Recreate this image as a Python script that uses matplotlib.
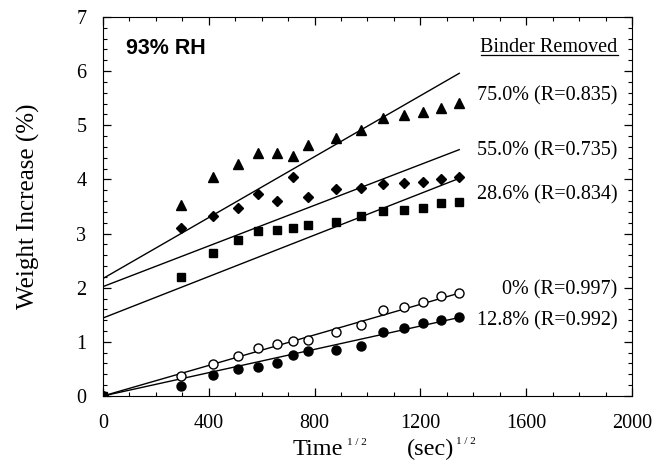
import numpy as np
import matplotlib
matplotlib.use("Agg")
import matplotlib.pyplot as plt

# ──────────────────────────────────────────────
# DATA
# ──────────────────────────────────────────────
time_sqrt = [0, 294, 416, 509, 586, 657, 720, 777, 881, 974, 1059, 1137, 1210, 1279, 1345]

# 75.0 % and 55.0 % series have no point at the origin
w_750 = [3.52, 4.04, 4.28, 4.49, 4.49, 4.44, 4.63, 4.76, 4.92, 5.13, 5.19, 5.24, 5.32, 5.42]
w_550 = [3.11, 3.33, 3.47, 3.73, 3.61, 4.04, 3.67, 3.83, 3.84, 3.91, 3.93, 3.96, 4.01, 4.05]
w_286 = [0, 2.20, 2.64, 2.88, 3.04, 3.07, 3.11, 3.15, 3.22, 3.32, 3.41, 3.44, 3.48, 3.56, 3.59]
w_000 = [0, 0.37, 0.59, 0.73, 0.88, 0.96, 1.01, 1.04, 1.18, 1.32, 1.58, 1.65, 1.73, 1.84, 1.90]
w_128 = [0, 0.18, 0.39, 0.49, 0.54, 0.60, 0.76, 0.84, 0.85, 0.92, 1.19, 1.25, 1.34, 1.40, 1.45]

# fitted lines: value at x = 0 and at the last x
fit_x = [0, 1347]
fit_750 = [2.17, 5.96]
fit_550 = [2.02, 4.55]
fit_286 = [1.44, 4.02]
fit_000 = [0.00, 1.90]
fit_128 = [0.00, 1.45]

labels = ["75.0% (R=0.835)", "55.0% (R=0.735)", "28.6% (R=0.834)",
          "0% (R=0.997)", "12.8% (R=0.992)"]
label_y = [5.55, 4.53, 3.72, 1.96, 1.39]

x_ticks = [0, 400, 800, 1200, 1600, 2000]
y_ticks = [0, 1, 2, 3, 4, 5, 6, 7]

# ──────────────────────────────────────────────
# PLOT
# ──────────────────────────────────────────────
plt.rcParams["font.family"] = "Liberation Serif"

fig = plt.figure(figsize=(6.53, 4.74), dpi=100)
ax = fig.add_axes([0.1577, 0.1646, 0.8101, 0.7995])

ax.plot(fit_x, fit_750, color="black", lw=1.0)
ax.plot(fit_x, fit_550, color="black", lw=1.0)
ax.plot(fit_x, fit_286, color="black", lw=1.0)
ax.plot(fit_x, fit_000, color="black", lw=1.0)
ax.plot(fit_x, fit_128, color="black", lw=1.0)

ax.plot(time_sqrt[1:], w_750, "^", color="black", ms=7.5, ls="none")
ax.plot(time_sqrt[1:], w_550, "D", color="black", ms=5.2, ls="none")
ax.plot(time_sqrt, w_000, "o", mfc="white", mec="black", mew=1.0, ms=6.5, ls="none")
ax.plot(time_sqrt, w_128, "o", color="black", ms=6.5, ls="none")
ax.plot(time_sqrt, w_286, "s", color="black", ms=6.3, ls="none")

for txt, yv in zip(labels, label_y):
    ax.text(1946, yv, txt, ha="right", va="center", fontsize=14.5)

ax.text(1946, 6.43, "Binder Removed", ha="right", va="center", fontsize=14.5)
ax.plot([1429, 1946], [6.29, 6.29], color="black", lw=0.9, clip_on=False)
ax.text(87, 6.42, "93% RH", ha="left", va="center", fontsize=15.5,
        fontweight="bold", family="Liberation Sans")

ax.set_xlim(0, 2000)
ax.set_ylim(0, 7)
ax.set_xticks(x_ticks)
ax.set_yticks(y_ticks)
ax.set_xticks(np.arange(0, 2001, 100), minor=True)
ax.set_yticks(np.arange(0, 7.01, 0.2), minor=True)
ax.tick_params(which="both", direction="in", top=True, right=True, labelsize=14.5)
ax.tick_params(which="major", length=6, width=0.9)
ax.tick_params(which="minor", length=3, width=0.8)
ax.tick_params(axis="y", pad=12)
ax.tick_params(axis="x", pad=13)

ax.set_ylabel("Weight Increase (%)", fontsize=18, labelpad=26)

# x label built from pieces so the 1/2 exponents stay small
fig.text(0.4487, 0.040, "Time", fontsize=17.5, va="baseline", ha="left")
fig.text(0.5314, 0.061, "1 / 2", fontsize=8, va="baseline", ha="left")
fig.text(0.6233, 0.040, "(sec)", fontsize=17.5, va="baseline", ha="left")
fig.text(0.6990, 0.064, "1 / 2", fontsize=8, va="baseline", ha="left")

plt.savefig("out.png", dpi=100)
